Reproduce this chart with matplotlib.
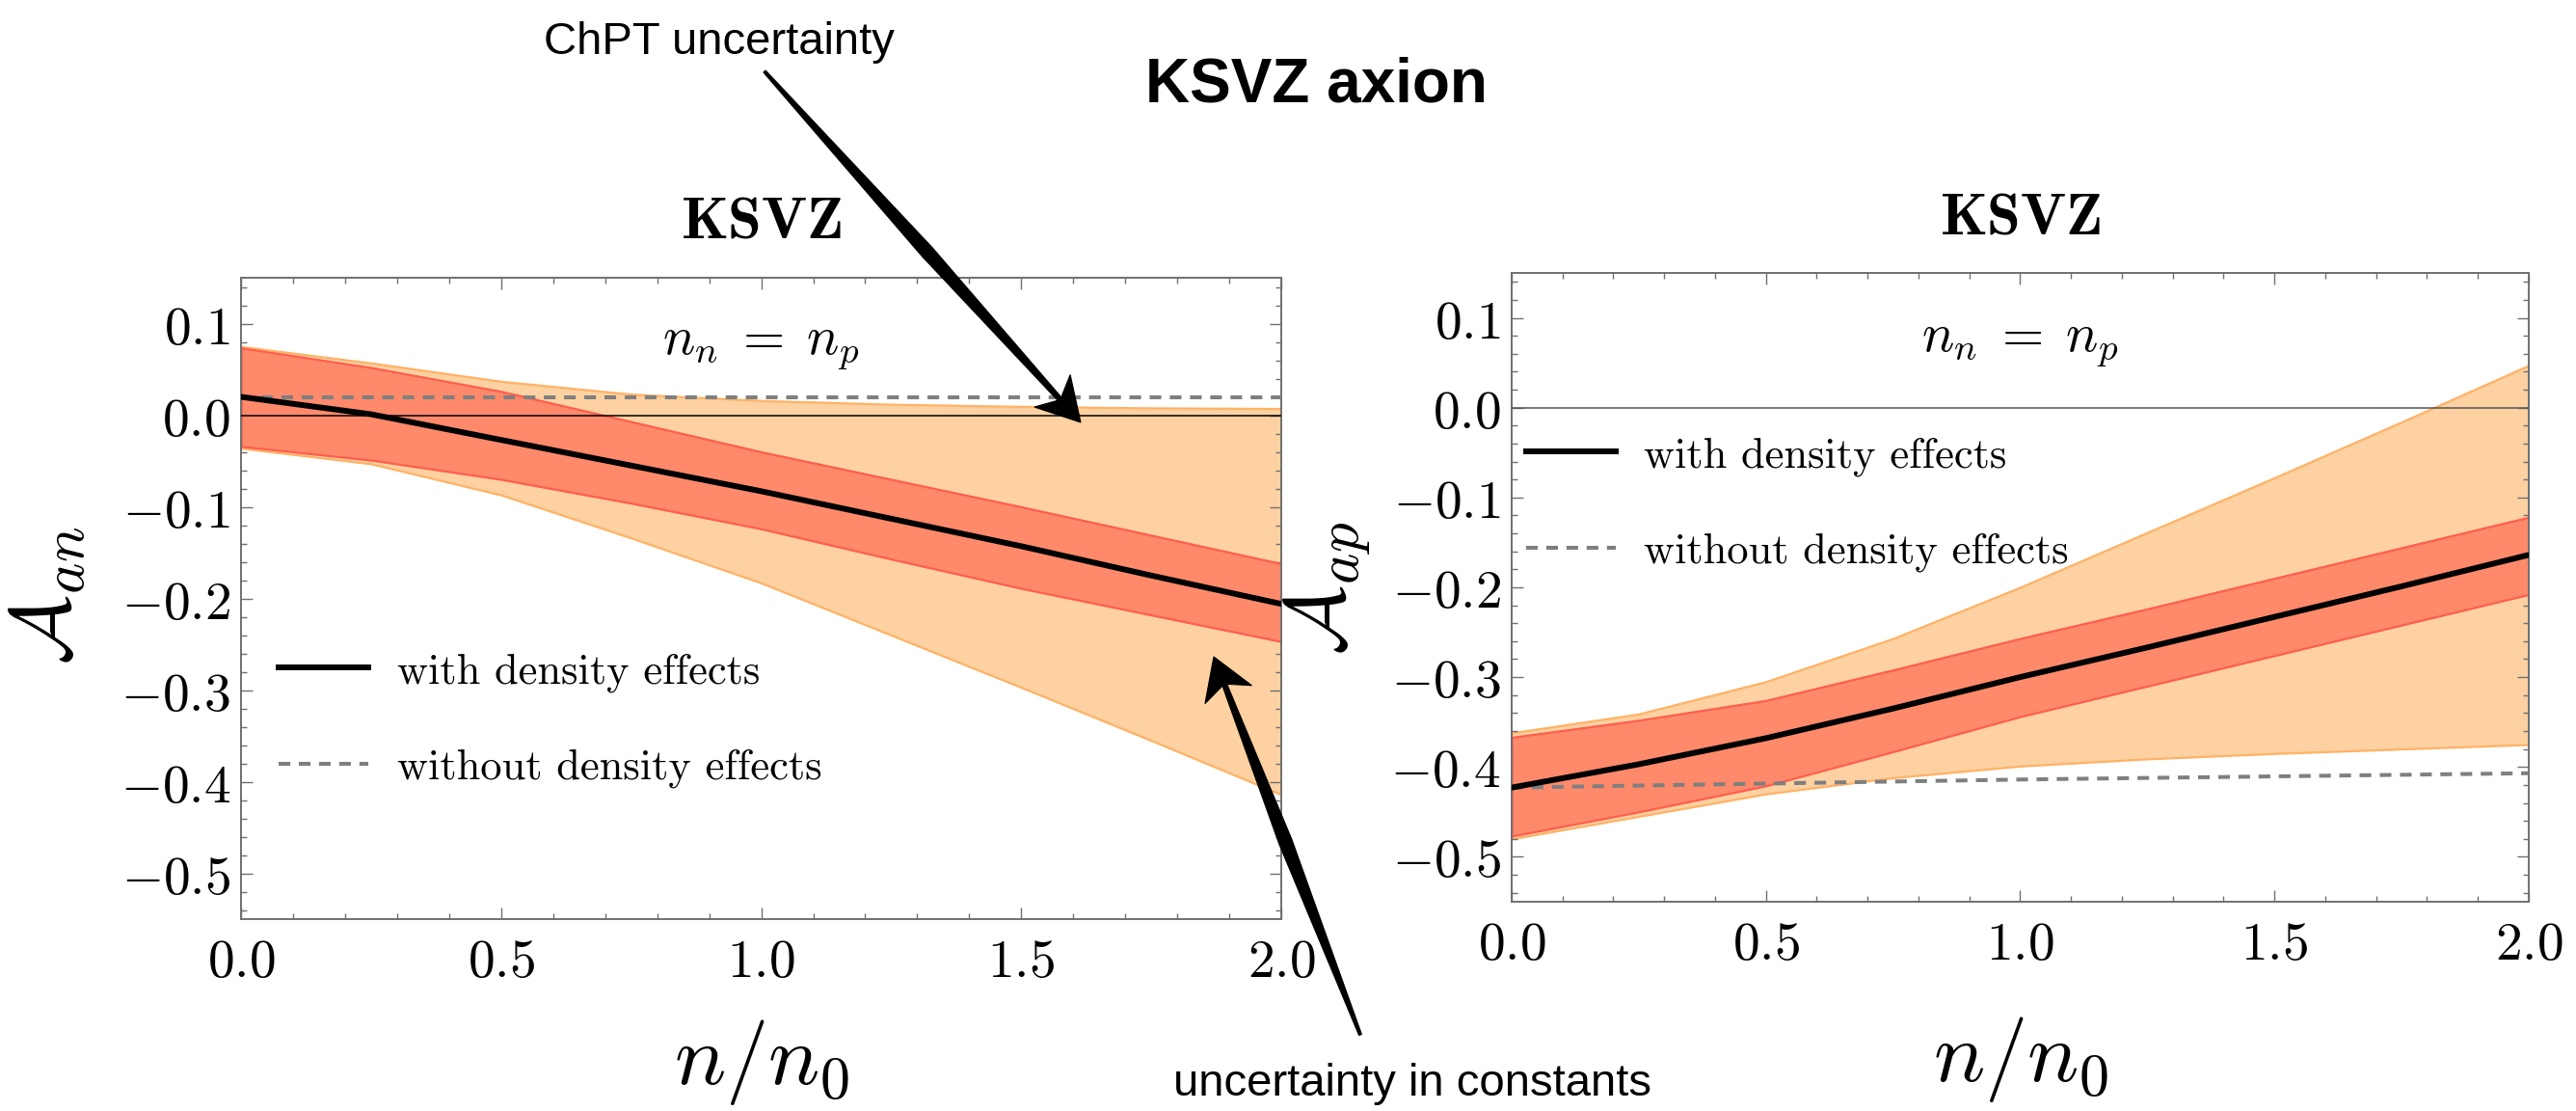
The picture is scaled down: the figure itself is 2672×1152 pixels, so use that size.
import matplotlib
matplotlib.use("Agg")
import matplotlib.pyplot as plt
import numpy as np
from matplotlib.patches import Polygon
from matplotlib.ticker import MultipleLocator, FuncFormatter

plt.rcParams.update(
    {
        "mathtext.fontset": "cm",
        "axes.unicode_minus": True,
    }
)

# density grid n/n0
x_grid = [0.0, 0.25, 0.5, 0.75, 1.0, 1.25, 1.5, 1.75, 2.0]

# neutron coupling A_an
an_central = [0.020, 0.001, -0.027, -0.055, -0.083, -0.113, -0.143, -0.175, -0.206]
an_red_hi = [0.0735, 0.052, 0.026, -0.007, -0.040, -0.070, -0.100, -0.131, -0.162]
an_red_lo = [-0.034, -0.049, -0.070, -0.096, -0.124, -0.157, -0.189, -0.218, -0.247]
an_orange_hi = [0.075, 0.057, 0.037, 0.023, 0.016, 0.012, 0.0096, 0.008, 0.0073]
an_orange_lo = [-0.036, -0.053, -0.087, -0.134, -0.183, -0.240, -0.297, -0.355, -0.414]
an_nodens_x = [0.0, 2.0]
an_nodens = [0.0196, 0.0196]

# proton coupling A_ap
ap_central = [-0.423, -0.397, -0.368, -0.335, -0.300, -0.267, -0.233, -0.199, -0.164]
ap_red_hi = [-0.367, -0.348, -0.326, -0.292, -0.257, -0.224, -0.190, -0.156, -0.122]
ap_red_lo = [-0.477, -0.450, -0.421, -0.383, -0.344, -0.310, -0.276, -0.242, -0.208]
ap_orange_hi = [-0.362, -0.341, -0.305, -0.257, -0.200, -0.139, -0.078, -0.016, 0.047]
ap_orange_lo = [-0.480, -0.455, -0.430, -0.412, -0.399, -0.391, -0.385, -0.380, -0.375]
ap_nodens_x = [0.0, 1.0, 2.0]
ap_nodens = [-0.423, -0.414, -0.407]

ORANGE_FILL = "#fdd1a1"
ORANGE_EDGE = "#ffb266"
RED_FILL = "#ff8a6b"
RED_EDGE = "#ff5e4d"
SPINE = "#707070"
DASH = (3.0, 2.2)

W, H = 2672, 1152
fig = plt.figure(figsize=(W / 100, H / 100), dpi=100)

ax_n = fig.add_axes([0.0936, 0.1727, 0.4038, 0.5773])
ax_p = fig.add_axes([0.5868, 0.1884, 0.3948, 0.5660])


def tick_fmt(v, pos):
    if abs(v) < 1e-9:
        v = 0.0
    return f"${v:.1f}$"


def draw_panel(ax, central, red_hi, red_lo, orange_hi, orange_lo, nd_x, nd_y, zero_color):
    ax.fill_between(x_grid, orange_lo, orange_hi, facecolor=ORANGE_FILL,
                    edgecolor=ORANGE_EDGE, linewidth=1.6, zorder=1)
    ax.fill_between(x_grid, red_lo, red_hi, facecolor=RED_FILL,
                    edgecolor=RED_EDGE, linewidth=1.6, zorder=2)
    ax.axhline(0.0, color=zero_color, lw=1.1, zorder=3)
    ax.plot(nd_x, nd_y, color="#7f7f7f", lw=2.9, dashes=DASH, zorder=4,
            label="without density effects")
    ax.plot(x_grid, central, color="black", lw=4.3, zorder=5,
            label="with density effects")

    ax.set_xlim(0, 2)
    ax.set_ylim(-0.55, 0.15)
    ax.xaxis.set_major_locator(MultipleLocator(0.5))
    ax.xaxis.set_minor_locator(MultipleLocator(0.1))
    ax.yaxis.set_major_locator(MultipleLocator(0.1))
    ax.yaxis.set_minor_locator(MultipleLocator(0.02))
    ax.xaxis.set_major_formatter(FuncFormatter(tick_fmt))
    ax.yaxis.set_major_formatter(FuncFormatter(tick_fmt))
    ax.tick_params(which="both", direction="in", top=True, right=True,
                   color=SPINE, width=1.0, labelsize=40)
    ax.tick_params(axis="x", which="major", pad=13)
    ax.tick_params(axis="y", which="major", pad=8)
    ax.tick_params(which="major", length=8.6)
    ax.tick_params(which="minor", length=4.3)
    for s in ax.spines.values():
        s.set_color(SPINE)
        s.set_linewidth(1.4)

    ax.text(0.5, 1.088, r"$\mathbf{KSVZ}$", transform=ax.transAxes,
            ha="center", va="center", fontsize=45)


draw_panel(ax_n, an_central, an_red_hi, an_red_lo, an_orange_hi, an_orange_lo,
           an_nodens_x, an_nodens, "black")
draw_panel(ax_p, ap_central, ap_red_hi, ap_red_lo, ap_orange_hi, ap_orange_lo,
           ap_nodens_x, ap_nodens, "#555555")

ax_n.text(1.0, 0.067, r"$n_n\;=\;n_p$", ha="center", va="baseline", fontsize=40)
ax_p.text(1.0, 0.063, r"$n_n\;=\;n_p$", ha="center", va="baseline", fontsize=40)

# axis labels
ax_n.set_ylabel(r"$\mathcal{A}_{an}$", fontsize=63)
ax_n.yaxis.set_label_coords(-0.185, 0.505)
ax_n.yaxis.label.set_va("center")
ax_p.set_ylabel(r"$\mathcal{A}_{ap}$", fontsize=63)
ax_p.yaxis.set_label_coords(-0.181, 0.498)
ax_p.yaxis.label.set_va("center")

ax_n.set_xlabel(r"$n/n_0$", fontsize=64)
ax_n.xaxis.set_label_coords(0.5, -0.2226)
ax_n.xaxis.label.set_va("center")
ax_p.set_xlabel(r"$n/n_0$", fontsize=64)
ax_p.xaxis.set_label_coords(0.5, -0.2515)
ax_p.xaxis.label.set_va("center")

# legends (solid first, then dashed)
for ax, anchor in [(ax_n, (0.036, 0.31)), (ax_p, (0.014, 0.632))]:
    handles, labels = ax.get_legend_handles_labels()
    ax.legend(handles[::-1], labels[::-1], loc="center left", bbox_to_anchor=anchor,
              frameon=False, prop={"family": "cmr10", "size": 32},
              handlelength=2.1, handletextpad=0.66, labelspacing=1.32,
              borderpad=0, borderaxespad=0)

# annotations in figure pixels (x from left, y from top)
def to_fig(p):
    return (p[0] / W, 1 - p[1] / H)


def add_arrow(tail, tip, head_len, head_w, shaft_w):
    tail = np.array(tail, float)
    tip = np.array(tip, float)
    d = tip - tail
    L = np.hypot(*d)
    u = d / L
    nrm = np.array([-u[1], u[0]])
    base = tip - u * head_len
    notch = tip - u * head_len * 0.72
    head = [tip, base + nrm * head_w / 2, notch, base - nrm * head_w / 2]
    s_len = L - head_len * 0.72
    mid = tail + u * s_len * 0.55
    shaft = [tail + nrm * 1.5, mid + nrm * shaft_w / 2, notch + nrm * 2.5,
             notch - nrm * 2.5, mid - nrm * shaft_w / 2, tail - nrm * 1.5]
    for pts in (shaft, head):
        poly = Polygon([to_fig(p) for p in pts], closed=True, transform=fig.transFigure,
                       facecolor="black", edgecolor="black", lw=0.8)
        fig.add_artist(poly)


add_arrow((793, 74), (1121, 438), 44, 50, 14)
add_arrow((1411, 1073), (1259, 681), 42, 52, 14)

fig.text(*to_fig((746, 44)), "ChPT uncertainty", family="Liberation Sans",
         fontsize=34, ha="center", va="center")
fig.text(*to_fig((1366, 88)), "KSVZ axion", family="Liberation Sans",
         fontweight="bold", fontsize=46, ha="center", va="center")
fig.text(*to_fig((1465, 1124)), "uncertainty in constants", family="Liberation Sans",
         fontsize=34, ha="center", va="center")

fig.savefig("out.png", dpi=100)
